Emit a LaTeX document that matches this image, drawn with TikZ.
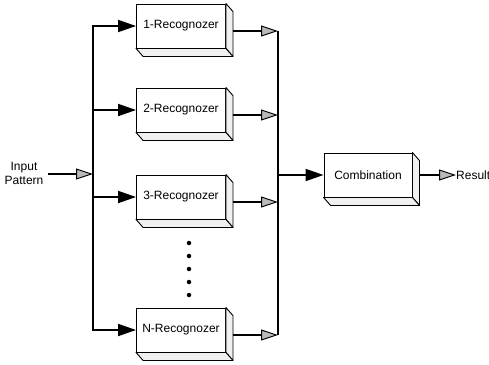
\documentclass[tikz,border=0pt]{standalone}
\usepackage{fontspec}
\setmainfont{Liberation Sans}
\usetikzlibrary{arrows.meta,calc}
\tikzset{
  recbox/.style={draw, line width=0.9pt, fill=white, minimum width=89pt, minimum height=44pt, inner sep=0pt, font=\fontsize{12}{14}\selectfont},
  combbox/.style={recbox, minimum width=88pt},
  bus/.style={line width=2.8pt},
  inarrow/.style={line width=1.8pt, -{Triangle[length=18pt,width=12pt]}},
  outarrow/.style={line width=1.8pt, -{Triangle[length=17pt,width=11pt,fill=gray!55,line width=1pt]}},
  lbl/.style={font=\fontsize{12}{14}\selectfont, inner sep=0pt},
  side/.style={draw, line width=0.9pt, fill=gray!12, line join=round},
  dot/.style={circle, fill=black, inner sep=0pt, minimum size=4.5pt}
}
\newcommand{\extrude}[1]{%
  \path[side] (#1.north east) -- ++(7,8) -- ($(#1.south east)+(7,8)$) -- (#1.south east) -- cycle;
  \path[side] (#1.south west) -- ++(7,8) -- ($(#1.south east)+(7,8)$) -- (#1.south east) -- cycle;
}
\begin{document}
\begin{tikzpicture}[x=1pt,y=-1pt]
\useasboundingbox (0,0) rectangle (489,364);
% boxes
\node[recbox] (r1) at (181,26) {1-Recognozer};
\node[recbox] (r2) at (181,110) {2-Recognozer};
\node[recbox] (r3) at (181,197) {3-Recognozer};
\node[recbox] (rN) at (181,330) {N-Recognozer};
\node[combbox] (cb) at (368,175) {Combination};
\extrude{r1}\extrude{r2}\extrude{r3}\extrude{rN}\extrude{cb}
% input
\node[lbl, align=center] (inp) at (24,173) {Input\\Pattern};
\coordinate (lt) at (93,26);
\coordinate (lb) at (93,330);
\coordinate (lm) at (93,174);
\draw[bus] ($(lt)+(-1,0)$) -- (lt) -- (lb) -- ++(-0.8,0);
\draw[outarrow] (48,174) -- (lm);
\foreach \n in {r1,r2,r3,rN}{
  \draw[inarrow] (lt |- \n.west) -- (\n.west);
}
% outputs
\coordinate (rt) at (278,31);
\coordinate (rb) at (278,335);
\draw[bus] (rt) -- (rb);
\foreach \n in {r1,r2,r3,rN}{
  \draw[outarrow] ($(\n.east)+(7,5)$) -- ($(rt |- \n.east)+(0,5)$);
}
\draw[inarrow] (278,175) -- (cb.west);
% dots
\foreach \y [count=\i] in {243,256,269,282,295}{
  \node[dot] (d\i) at (189,\y) {};
}
% result
\node[lbl, anchor=west] (res) at (456,175) {Result};
\draw[outarrow] ($(cb.east)+(7,0)$) -- (res.west);
\end{tikzpicture}
\end{document}
